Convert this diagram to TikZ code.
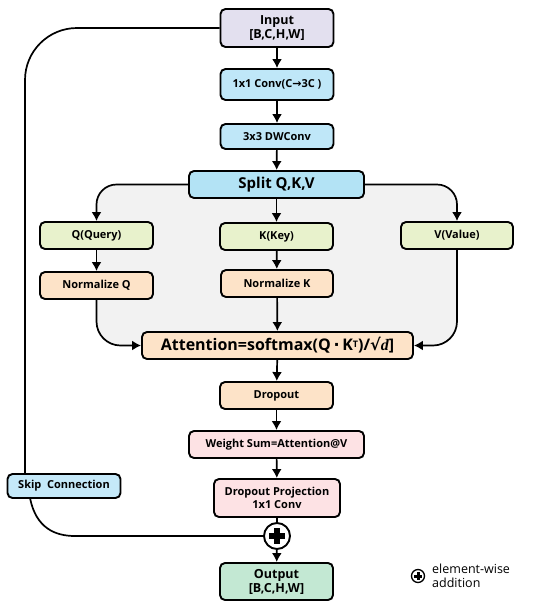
\documentclass[tikz,border=0pt]{standalone}
\usepackage{fontspec}
\setmainfont{Open Sans}
\newfontfamily\djv{DejaVu Sans}
\newfontfamily\serifbi{Liberation Serif}
\usetikzlibrary{arrows.meta}
\definecolor{cin}{HTML}{E3E0EF}
\definecolor{cconv}{HTML}{BFE7F8}
\definecolor{csplit}{HTML}{B3E3F5}
\definecolor{cgreen}{HTML}{E8F2CC}
\definecolor{cpeach}{HTML}{FDE3C8}
\definecolor{cpink}{HTML}{FDE2E4}
\definecolor{cout}{HTML}{C3E8D3}
\definecolor{cskip}{HTML}{C5E9F9}
\definecolor{cbg}{HTML}{F2F2F2}
\begin{document}
\begin{tikzpicture}[x=1pt,y=-1pt,
  box/.style={draw=black, line width=1.9pt, rounded corners=5pt, inner sep=0pt, align=center, font=\fontsize{11}{13}\selectfont\bfseries},
  arr/.style={line width=1.7pt, -{Latex[length=9pt,width=10pt]}},
  ln/.style={line width=1.7pt}]
\useasboundingbox (0,0) rectangle (550,611);
\fill[white] (0,0) rectangle (550,611);
% gray region
\fill[cbg, rounded corners=22pt] (97,184) rectangle (457,346);
% nodes
\node[box, fill=cin, minimum width=113pt, minimum height=38pt, font=\fontsize{12.5}{14}\selectfont\bfseries] (in) at (277,28) {Input\\{}[B,C,H,W]};
\node[box, fill=cconv, minimum width=113pt, minimum height=31pt] (c1) at (277,84.5) {1x1 Conv(C{\djv\bfseries →}3C )};
\node[box, fill=cconv, minimum width=113pt, minimum height=25pt] (dw) at (277,136.5) {3x3 DWConv};
\node[box, fill=csplit, minimum width=175pt, minimum height=27pt, font=\fontsize{15}{17}\selectfont\bfseries] (split) at (276.5,184.5) {Split Q,K,V};
\node[box, fill=cgreen, minimum width=113pt, minimum height=27pt] (q) at (96.5,235.5) {Q(Query)};
\node[box, fill=cgreen, minimum width=113pt, minimum height=27pt] (k) at (276.5,236.5) {K(Key)};
\node[box, fill=cgreen, minimum width=112pt, minimum height=27pt] (v) at (457,235.5) {V(Value)};
\node[box, fill=cpeach, minimum width=113pt, minimum height=27pt] (nq) at (96.5,285.5) {Normalize Q};
\node[box, fill=cpeach, minimum width=112pt, minimum height=27pt] (nk) at (277,283.5) {Normalize K};
\node[box, fill=cpeach, minimum width=271pt, minimum height=27pt, font=\fontsize{16}{18}\selectfont\bfseries] (att) at (277.5,345.5) {Attention=softmax(Q\,{\djv ·}\,K{\fontsize{9}{9}\selectfont\raisebox{3.5pt}{T}})/{\djv √}{\serifbi\bfseries\itshape d}]};
\node[box, fill=cpeach, minimum width=113pt, minimum height=27pt] (dr) at (276.5,395.5) {Dropout};
\node[box, fill=cpink, minimum width=175pt, minimum height=27pt] (ws) at (276.5,444.5) {Weight Sum=Attention@V};
\node[box, fill=cpink, minimum width=126pt, minimum height=38pt] (dp) at (277,498) {Dropout Projection\\1x1 Conv};
\node[draw=black, line width=1.9pt, fill=white, circle, minimum size=26pt, inner sep=0pt] (plus) at (277,536) {};
\fill[black] (plus.center) ++(-8,-2.8) rectangle ++(16,5.6);
\fill[black] (plus.center) ++(-2.8,-8) rectangle ++(5.6,16);
\node[box, fill=cout, minimum width=113pt, minimum height=37pt, font=\fontsize{12.5}{14}\selectfont\bfseries] (out) at (276.5,581.5) {Output\\{}[B,C,H,W]};
\node[box, fill=cskip, minimum width=113pt, minimum height=24pt] (skip) at (64,486) {Skip\ \ Connection};
% legend
\node[draw=black, line width=1.3pt, fill=white, circle, minimum size=13pt, inner sep=0pt] (lg) at (418,576) {};
\fill[black] (lg.center) ++(-4,-1.5) rectangle ++(8,3);
\fill[black] (lg.center) ++(-1.5,-4) rectangle ++(3,8);
\node[anchor=west, align=left, font=\fontsize{12.5}{14.5}\selectfont, inner sep=0pt] (lgt) at (432,576) {element-wise\\addition};
% connectors
\draw[arr] (in) -- (c1);
\draw[arr] (c1) -- (dw);
\draw[arr] (dw) -- (split);
\draw[arr] (split) -- (k);
\draw[arr] (k) -- (nk);
\draw[arr] (nk) -- (att);
\draw[arr] (att) -- (dr);
\draw[arr] (dr) -- (ws);
\draw[arr] (ws) -- (dp);
\draw[ln] (dp) -- (plus);
\draw[arr] (plus) -- (out);
\draw[arr] (q) -- (nq);
\draw[arr, rounded corners=20pt] (split.west) -| (q.north);
\draw[arr, rounded corners=20pt] (split.east) -| (v.north);
\draw[arr, rounded corners=24pt] (nq.south) |- (att.west);
\draw[arr, rounded corners=24pt] (v.south) |- (att.east);
% skip connection
\coordinate (sk1) at (25,28);
\coordinate (sk2) at (25,474);
\draw[ln, rounded corners=52pt] (in.west) -- (sk1) -- (sk2);
\draw[ln] (30,498) .. controls (36,528) and (55,536) .. (75,536) -- (plus.west);
\end{tikzpicture}
\end{document}
